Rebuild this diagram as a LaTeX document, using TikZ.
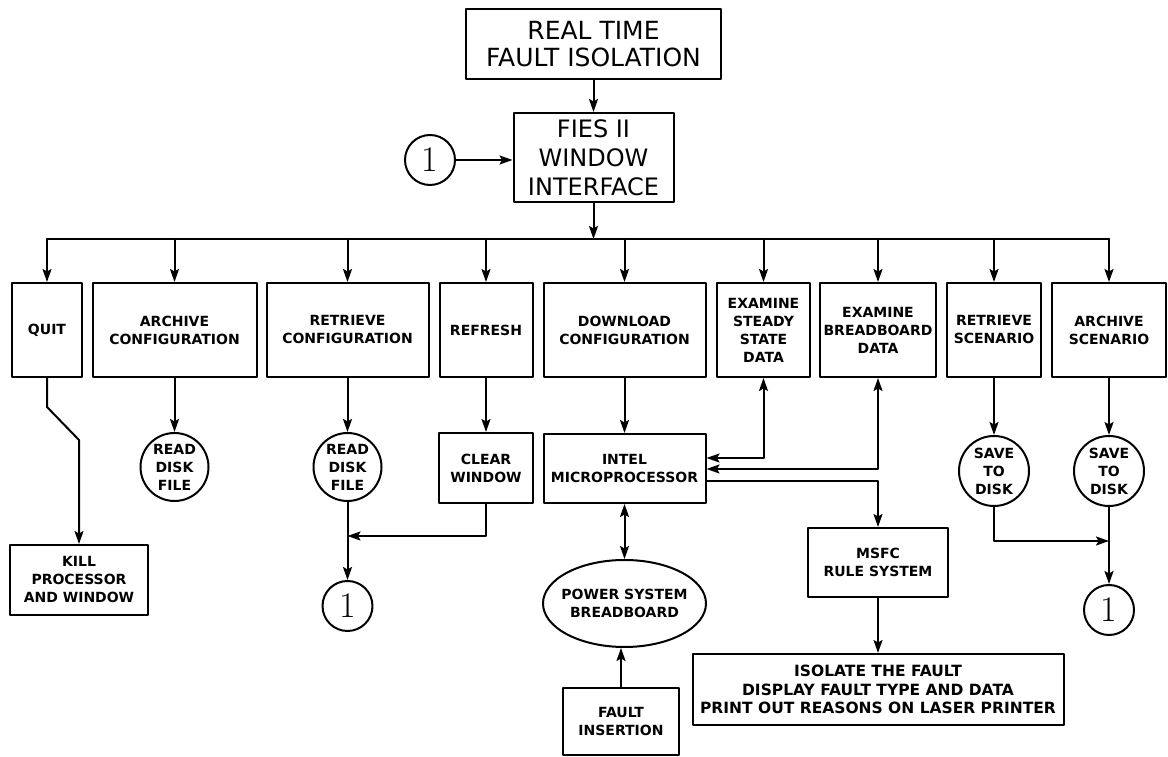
\documentclass[tikz,border=0pt]{standalone}
\usepackage{fontspec}
\setsansfont{DejaVu Sans}
\usetikzlibrary{calc,positioning,shapes.geometric,arrows.meta}

\begin{document}
\begin{tikzpicture}[x=1pt,y=1pt,line width=2pt, line cap=round, line join=round]

% ---------- styles ----------
\tikzset{
  box/.style={draw, line width=2pt, align=center, inner sep=1pt,
    font=\sffamily\bfseries\fontsize{14}{18}\selectfont},
  rowbox/.style={box, minimum height=94pt},
  bigbox/.style={box, font=\sffamily\fontsize{25}{27}\selectfont},
  disk/.style={box, circle, inner sep=0pt, minimum size=68pt},
  oval/.style={box, ellipse, inner xsep=-7pt, inner ysep=0pt},
  conn/.style={draw, circle, line width=2pt, inner sep=0pt, minimum size=50pt,
    font=\rmfamily\fontsize{36}{36}\selectfont},
  arr/.style={-{Stealth[length=13pt,width=9pt,inset=2.5pt]}},
  dbl/.style={{Stealth[length=13pt,width=9pt,inset=2.5pt]}-{Stealth[length=13pt,width=9pt,inset=2.5pt]}},
}

% ---------- canvas ----------
\useasboundingbox (0,0) rectangle (1168,757);

% ---------- top ----------
\node[bigbox, minimum width=255pt, minimum height=70pt] (rtfi) at (593.5,713)
  {REAL TIME\\FAULT ISOLATION};
\node[bigbox, font=\sffamily\fontsize{24}{29}\selectfont, minimum width=160pt, minimum height=89pt]
  (fies) at (593.5,599.5) {FIES II\\WINDOW\\INTERFACE};
\node[conn] (cone) at (430,597) {1};

\coordinate (bus) at (593.5,518);

% ---------- menu row ----------
\node[rowbox, minimum width=70pt]  (quit)     at (47,427)    {QUIT};
\node[rowbox, minimum width=164pt] (arcconf)  at (174.5,427) {ARCHIVE\\CONFIGURATION};
\node[rowbox, minimum width=162pt] (retconf)  at (347.5,427) {RETRIEVE\\CONFIGURATION};
\node[rowbox, minimum width=93pt]  (refresh)  at (486,427)   {REFRESH};
\node[rowbox, minimum width=162pt] (download) at (624.5,427) {DOWNLOAD\\CONFIGURATION};
\node[rowbox, minimum width=93pt]  (steady)   at (763.5,427) {EXAMINE\\STEADY\\STATE\\DATA};
\node[rowbox, minimum width=116pt] (bboard)   at (878,427)   {EXAMINE\\BREADBOARD\\DATA};
\node[rowbox, minimum width=94pt]  (retscen)  at (994,427)   {RETRIEVE\\SCENARIO};
\node[rowbox, minimum width=114pt] (arcscen)  at (1109,427)  {ARCHIVE\\SCENARIO};

% ---------- second level ----------
\node[disk] (rdA) at (174.5,290) {READ\\DISK\\FILE};
\node[disk] (rdB) at (347.5,290) {READ\\DISK\\FILE};
\node[box, minimum width=94pt, minimum height=70pt] (clear) at (486,289) {CLEAR\\WINDOW};
\node[box, minimum width=162pt, minimum height=69pt] (intel) at (624.5,288.5) {INTEL\\MICROPROCESSOR};
\node[disk, minimum size=70pt] (saveA) at (994,286)  {SAVE\\TO\\DISK};
\node[disk, minimum size=70pt] (saveB) at (1109,286) {SAVE\\TO\\DISK};

% ---------- bottom ----------
\node[box, minimum width=138pt, minimum height=70pt] (kill) at (79,177) {KILL\\PROCESSOR\\AND WINDOW};
\node[conn] (conel) at (347.5,151) {1};
\node[conn] (coner) at (1109,147) {1};
\node[box, minimum width=140pt, minimum height=69pt] (msfc) at (878,194.5) {MSFC\\RULE SYSTEM};
\node[oval, minimum width=163pt, minimum height=87pt] (power) at (624.5,153.5) {POWER SYSTEM\\BREADBOARD};
\node[box, font=\sffamily\bfseries\fontsize{15.5}{18.5}\selectfont, minimum width=371pt, minimum height=71pt]
  (isolate) at (878,67.5)
  {ISOLATE THE FAULT\\DISPLAY FAULT TYPE AND DATA\\PRINT OUT REASONS ON LASER PRINTER};
\node[box, minimum width=116pt, minimum height=67pt] (fault) at (621,35.5) {FAULT\\INSERTION};

% ---------- connectors ----------
\draw[arr] (rtfi) -- (fies);
\draw[arr] (cone) -- (cone -| fies.west);
\draw[arr] (fies) -- (bus);
\draw (quit.north |- bus) -- (arcscen.north |- bus);
\foreach \b in {quit,arcconf,retconf,refresh,download,steady,bboard,retscen,arcscen}
  \draw[arr] (\b.north |- bus) -- (\b.north);

% quit jogs to the right
\coordinate (qa) at (47,350);
\coordinate (qb) at (79,317);
\draw[arr] (quit.south) -- (qa) -- (qb) -- (kill.north);

\foreach \a/\b in {arcconf/rdA, retconf/rdB, refresh/clear, download/intel,
                   retscen/saveA, arcscen/saveB, msfc/isolate, rdB/conel, saveB/coner}
  \draw[arr] (\a.south) -- (\b.north);

% joins into the return connectors
\coordinate (jl) at (347.5,221);
\draw[arr] (clear.south) -- (clear.south |- jl) -- (jl);
\coordinate (jr) at (1109,216);
\draw[arr] (saveA.south) -- (saveA.south |- jr) -- (jr);

% microprocessor links
\coordinate (inS)  at ($(intel.east)+(0,10.5)$);
\coordinate (inB)  at ($(intel.east)+(0,-0.5)$);
\coordinate (outM) at ($(intel.east)+(0,-12.5)$);
\draw[dbl] (steady.south) -- (steady.south |- inS) -- (inS);
\draw[dbl] (bboard.south) -- (bboard.south |- inB) -- (inB);
\draw[arr] (outM) -- (msfc.north |- outM) -- (msfc.north);
\draw[dbl] (intel.south) -- (power.north);
\draw[arr] (fault.north) -- (fault.north |- power.south);

\end{tikzpicture}
\end{document}
